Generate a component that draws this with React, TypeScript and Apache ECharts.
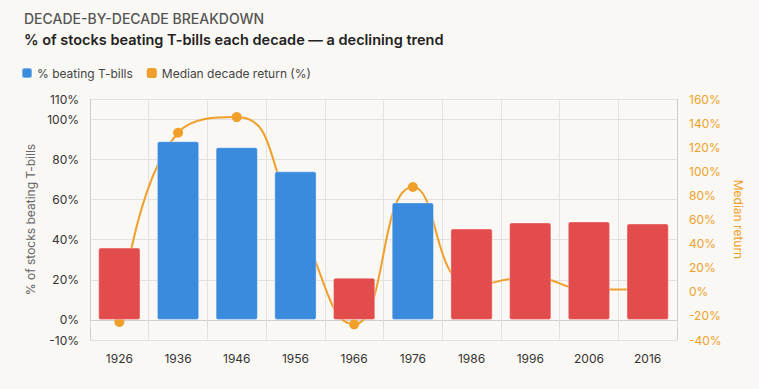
import React, { useEffect, useRef } from "react";
import * as echarts from "echarts";

const decades = ["1926", "1936", "1946", "1956", "1966", "1976", "1986", "1996", "2006", "2016"];
const pctBeating = [36, 89, 86, 74, 21, 58.5, 45.5, 48.5, 49, 48];
const medianReturn = [-25, 132, 145, 62, -27, 87, 5, 12, 2, 2];
const leftTicks = [-10, 0, 20, 40, 60, 80, 100, 110];

const BLUE = "#3a8bdd";
const RED = "#e34c4c";
const ORANGE = "#f0a02a";
const BG = "#faf8f4";
const FONT = "Inter, 'Noto Sans', sans-serif";

export default function App() {
  const ref = useRef<HTMLDivElement>(null);
  useEffect(() => {
    document.body.style.margin = "0";
    document.body.style.background = BG;
    const chart = echarts.init(ref.current!, null, { renderer: "svg" });
    chart.setOption({
      animation: false,
      backgroundColor: BG,
      textStyle: { fontFamily: FONT },
      title: [
        {
          text: "DECADE-BY-DECADE BREAKDOWN",
          left: 19,
          top: 6,
          textStyle: { fontSize: 14, fontWeight: 500, color: "#555", fontFamily: FONT },
        },
        {
          text: "% of stocks beating T-bills each decade — a declining trend",
          left: 19,
          top: 27,
          textStyle: { fontSize: 14.5, fontWeight: 600, color: "#222", fontFamily: FONT },
        },
      ],
      legend: {
        left: 16,
        top: 62,
        icon: "roundRect",
        itemWidth: 10,
        itemHeight: 10,
        itemGap: 14,
        textStyle: { fontSize: 12, color: "#444", fontFamily: FONT },
        data: ["% beating T-bills", "Median decade return (%)"],
      },
      grid: { left: 90, right: 82, top: 99, bottom: 49 },
      xAxis: {
        type: "category",
        data: decades,
        axisLine: { lineStyle: { color: "#cfcfcf" } },
        axisTick: { show: true, length: 8, lineStyle: { color: "#dcdcdc" } },
        splitLine: { show: true, lineStyle: { color: "#e4e2de" } },
        axisLabel: { fontSize: 12, color: "#333", margin: 12 },
      },
      yAxis: [
        {
          type: "value",
          min: -10,
          max: 110,
          name: "% of stocks beating T-bills",
          nameLocation: "middle",
          nameGap: 54,
          nameTextStyle: { fontSize: 12, color: "#666" },
          axisLine: { show: true, lineStyle: { color: "#cfcfcf" } },
          axisTick: { show: false, customValues: leftTicks },
          splitLine: { show: true, lineStyle: { color: "#e4e2de" } },
          axisLabel: { fontSize: 12, color: "#333", margin: 11, formatter: "{value}%", customValues: leftTicks },
        },
        {
          type: "value",
          min: -40,
          max: 160,
          interval: 20,
          name: "Median return",
          nameLocation: "middle",
          nameGap: 53,
          nameRotate: -90,
          nameTextStyle: { fontSize: 12, color: ORANGE },
          axisLine: { show: true, lineStyle: { color: "#cfcfcf" } },
          axisTick: { show: false },
          splitLine: { show: false },
          axisLabel: { fontSize: 12, color: ORANGE, margin: 12, formatter: "{value}%" },
        },
      ],
      series: [
        {
          name: "% beating T-bills",
          type: "bar",
          z: 3,
          barWidth: "72%",
          itemStyle: { color: BLUE, borderRadius: 2, borderColor: "rgba(255,255,255,0.35)", borderWidth: 1 },
          data: pctBeating.map((v) => ({
            value: v,
            itemStyle: { color: v >= 50 ? BLUE : RED },
          })),
        },
        {
          name: "Median decade return (%)",
          type: "line",
          z: 2,
          yAxisIndex: 1,
          smooth: true,
          symbol: "circle",
          symbolSize: 10,
          lineStyle: { color: ORANGE, width: 2 },
          itemStyle: { color: ORANGE },
          data: medianReturn,
        },
      ],
    });
    return () => chart.dispose();
  }, []);
  return <div ref={ref} style={{ width: 759, height: 389 }} />;
}
